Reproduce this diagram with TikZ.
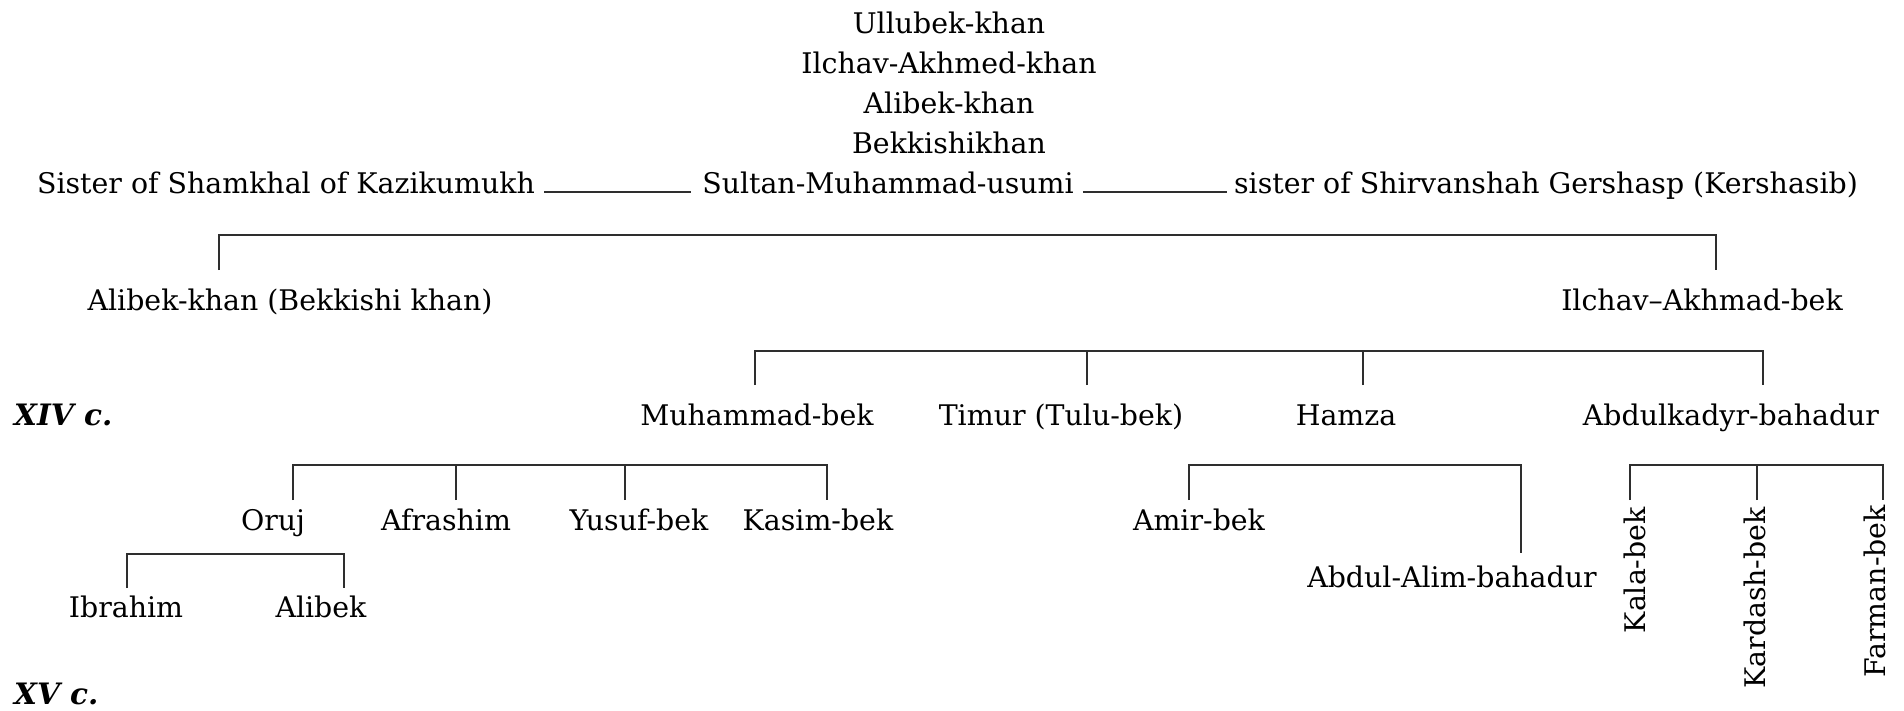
\documentclass[tikz,border=0pt]{standalone}
\usepackage{fontspec}
\setmainfont{DejaVu Serif}
\begin{document}
\begin{tikzpicture}[x=1pt,y=-1pt,
  lbl/.style={inner sep=0pt, anchor=base, font=\fontsize{28.4}{34}\selectfont},
  era/.style={lbl, anchor=base west, font=\fontsize{29.5}{34}\selectfont\bfseries\itshape},
  rot/.style={lbl, rotate=90, anchor=east},
  conn/.style={draw=black!82, line width=2.6pt}]
\useasboundingbox (0,0) rectangle (1904,710);
% ancestors
\node[lbl] (u1) at (949,33) {Ullubek-khan};
\node[lbl] (u2) at (949,73) {Ilchav-Akhmed-khan};
\node[lbl] (u3) at (949,113) {Alibek-khan};
\node[lbl] (u4) at (949,153) {Bekkishikhan};
% marriage row
\node[lbl] (sultan) at (888,193) {Sultan-Muhammad-usumi};
\node[lbl] (wifeA) at (286,193) {Sister of Shamkhal of Kazikumukh};
\node[lbl] (wifeB) at (1546,193) {sister of Shirvanshah Gershasp (Kershasib)};
\draw[conn] ([xshift=9pt,yshift=1pt]wifeA.base east) -- ([xshift=-11pt,yshift=1pt]sultan.base west);
\draw[conn] ([xshift=9pt,yshift=1pt]sultan.base east) -- ([xshift=-7pt,yshift=1pt]wifeB.base west);
% children of Sultan
\node[lbl] (alibekkhan) at (290,310) {Alibek-khan (Bekkishi khan)};
\node[lbl] (ilchav) at (1702,310) {Ilchav--Akhmad-bek};
\coordinate (t1) at (219,270);
\coordinate (t2) at (1716,270);
\draw[conn] (t1) |- (t2 |- 0,235) -- (t2);
% children of Ilchav
\node[era] (xiv) at (14,425) {XIV c.};
\node[lbl] (muh) at (757,425) {Muhammad-bek};
\node[lbl] (timur) at (1061,425) {Timur (Tulu-bek)};
\node[lbl] (hamza) at (1346,425) {Hamza};
\node[lbl] (abdk) at (1731,425) {Abdulkadyr-bahadur};
\coordinate (s1) at (755,385);
\coordinate (s2) at (1087,385);
\coordinate (s3) at (1363,385);
\coordinate (s4) at (1763,385);
\draw[conn] (s1) |- (s4 |- 0,351) -- (s4);
\draw[conn] (s2) -- (s2 |- 0,351);
\draw[conn] (s3) -- (s3 |- 0,351);
% children of Muhammad-bek
\node[lbl] (oruj) at (273,530) {Oruj};
\node[lbl] (afr) at (446,530) {Afrashim};
\node[lbl] (yusuf) at (639,530) {Yusuf-bek};
\node[lbl] (kasim) at (818,530) {Kasim-bek};
\coordinate (m1) at (293,500);
\coordinate (m2) at (456,500);
\coordinate (m3) at (625,500);
\coordinate (m4) at (827,500);
\draw[conn] (m1) |- (m4 |- 0,465) -- (m4);
\draw[conn] (m2) -- (m2 |- 0,465);
\draw[conn] (m3) -- (m3 |- 0,465);
% children of Oruj
\node[lbl] (ibr) at (126,617) {Ibrahim};
\node[lbl] (alibek) at (321,617) {Alibek};
\coordinate (o1) at (127,588);
\coordinate (o2) at (344,588);
\draw[conn] (o1) |- (o2 |- 0,554) -- (o2);
\node[era] (xv) at (14,704) {XV c.};
% children of Hamza
\node[lbl] (amir) at (1199,530) {Amir-bek};
\node[lbl] (alim) at (1452,587) {Abdul-Alim-bahadur};
\coordinate (h1) at (1189,500);
\coordinate (h2) at (1521,553);
\draw[conn] (h1) |- (h2 |- 0,465) -- (h2);
% children of Abdulkadyr
\node[rot] (kala) at (1635,507) {Kala-bek};
\node[rot] (kard) at (1755,507) {Kardash-bek};
\node[rot] (farm) at (1875,505) {Farman-bek};
\coordinate (a1) at (1630,500);
\coordinate (a2) at (1757,500);
\coordinate (a3) at (1883,500);
\draw[conn] (a1) |- (a3 |- 0,465) -- (a3);
\draw[conn] (a2) -- (a2 |- 0,465);
\end{tikzpicture}
\end{document}
